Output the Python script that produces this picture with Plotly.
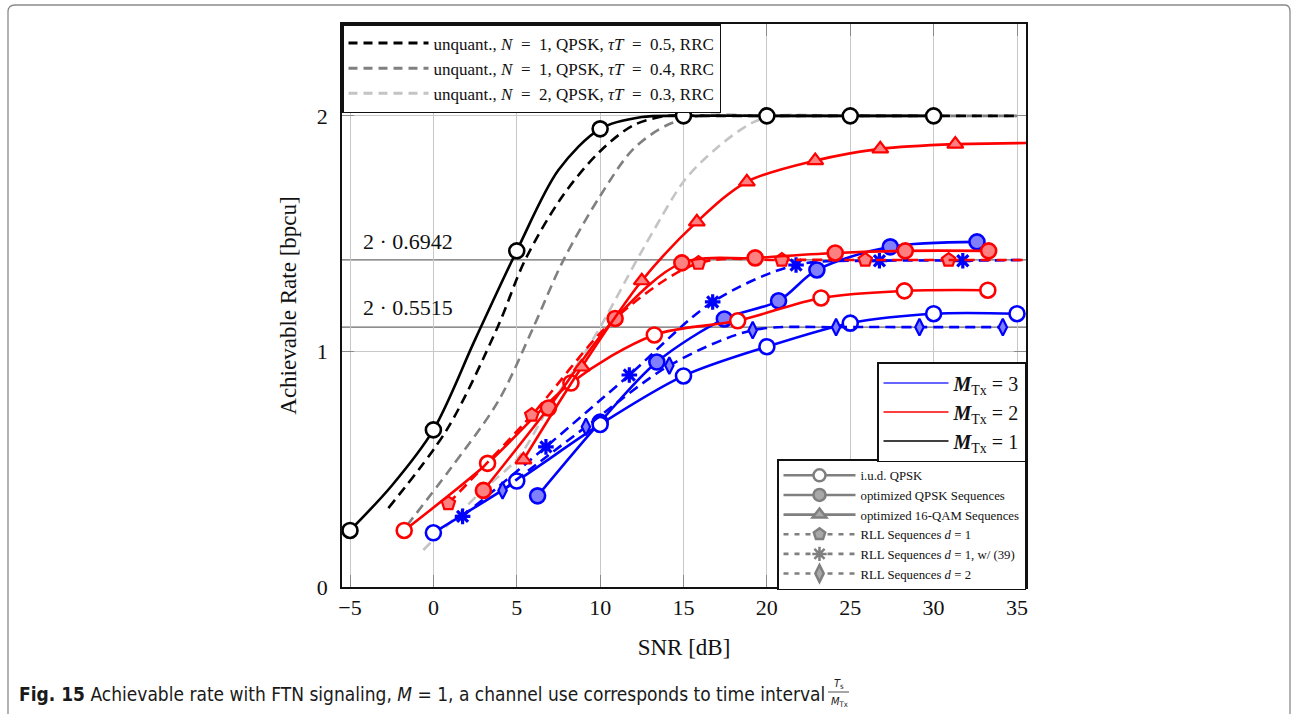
import plotly.graph_objects as go

# ---------------- data ----------------
# unquantized reference curves (dashed, no markers)
snr_uq_a = [-2.7, 0.8, 3.85, 5.5, 7.75, 10.0, 12.0, 14.0, 16.0, 20, 25, 30, 35]
rate_uq_a = [0.335, 0.667, 1.103, 1.388, 1.66, 1.85, 1.96, 2.0, 2.0, 2.0, 2.0, 2.0, 2.0]
snr_uq_b = [-1.6, 1.0, 3.9, 6.0, 7.8, 10.0, 12.0, 14.0, 16.0, 20, 25, 30, 35]
rate_uq_b = [0.26, 0.5, 0.79, 1.103, 1.388, 1.66, 1.86, 1.96, 2.0, 2.0, 2.0, 2.0, 2.0]
snr_uq_c = [-0.6, 0.4, 2.8, 5.1, 6.9, 8.5, 10.0, 12.2, 13.1, 15.1, 17.1, 19.1, 20.5, 25, 30, 35]
rate_uq_c = [0.157, 0.23, 0.40, 0.55, 0.76, 0.93, 1.103, 1.388, 1.50, 1.73, 1.87, 1.97, 2.0, 2.0, 2.0, 2.0]

# M_Tx = 1, i.u.d. QPSK
snr_m1_iud = [-5, 0, 5, 10, 15, 20, 25, 30]
rate_m1_iud = [0.24, 0.667, 1.427, 1.945, 2.0, 2.0, 2.0, 2.0]
snr_m1_iud_line = [-5, -2.5, 0, 2.5, 5, 7.5, 10, 12.5, 15, 20, 25, 30]
rate_m1_iud_line = [0.24, 0.43, 0.667, 1.05, 1.427, 1.77, 1.945, 1.995, 2.0, 2.0, 2.0, 2.0]

# M_Tx = 2
snr_m2_iud = [-1.75, 3.25, 8.25, 13.25, 18.25, 23.25, 28.25, 33.25]
rate_m2_iud = [0.24, 0.525, 0.866, 1.07, 1.13, 1.227, 1.257, 1.26]
snr_m2_opt = [3.0, 6.9, 10.9, 14.9, 19.3, 24.1, 28.3, 33.3]
rate_m2_opt = [0.41, 0.76, 1.14, 1.376, 1.397, 1.418, 1.427, 1.427]
snr_m2_qam = [5.4, 8.9, 12.5, 15.8, 18.8, 22.9, 26.8, 31.3]
rate_m2_qam = [0.54, 0.934, 1.30, 1.55, 1.72, 1.81, 1.86, 1.88]
snr_m2_qam_tail = [31.3, 35.6]
rate_m2_qam_tail = [1.88, 1.885]
snr_m2_rll1 = [0.9, 5.9, 10.9, 15.9, 20.9, 25.9, 30.9]
rate_m2_rll1 = [0.355, 0.73, 1.14, 1.375, 1.388, 1.388, 1.388]

# M_Tx = 3
snr_m3_iud = [0, 5, 10, 15, 20, 25, 30, 35]
rate_m3_iud = [0.23, 0.45, 0.69, 0.896, 1.02, 1.12, 1.16, 1.16]
snr_m3_opt = [6.25, 10, 13.4, 17.45, 20.7, 23.0, 27.4, 32.6]
rate_m3_opt = [0.387, 0.70, 0.955, 1.138, 1.215, 1.346, 1.444, 1.465]
snr_m3_rll1w = [1.75, 6.75, 11.75, 16.75, 21.75, 26.75, 31.75]
rate_m3_rll1w = [0.30, 0.595, 0.90, 1.21, 1.367, 1.385, 1.385]
snr_m3_rll2 = [4.15, 9.15, 14.15, 19.15, 24.15, 29.15, 34.15]
rate_m3_rll2 = [0.41, 0.68, 0.94, 1.09, 1.103, 1.103, 1.103]

# reference levels
ref_levels = [2 * 0.6942, 2 * 0.5515]
ref_labels = ["2 · 0.6942", "2 · 0.5515"]

x_ticks = [-5, 0, 5, 10, 15, 20, 25, 30, 35]
y_ticks = [0, 1, 2]

EQ = "\u2002=\u2002"
legend1_labels = [
    f"unquant., <i>N</i>{EQ}1, QPSK, <i>τT</i>{EQ}0.5, RRC",
    f"unquant., <i>N</i>{EQ}1, QPSK, <i>τT</i>{EQ}0.4, RRC",
    f"unquant., <i>N</i>{EQ}2, QPSK, <i>τT</i>{EQ}0.3, RRC",
]
legend2_labels = [
    "i.u.d. QPSK",
    "optimized QPSK Sequences",
    "optimized 16-QAM Sequences",
    "RLL Sequences <i>d</i> = 1",
    "RLL Sequences <i>d</i> = 1, w/ (39)",
    "RLL Sequences <i>d</i> = 2",
]
legend3_labels = [
    "<b><i>M</i></b><sub>Tx</sub> = 3",
    "<b><i>M</i></b><sub>Tx</sub> = 2",
    "<b><i>M</i></b><sub>Tx</sub> = 1",
]

# ---------------- styling ----------------
SERIF = "Liberation Serif, Times New Roman, serif"
RED, BLUE, BLACK = "#ff0000", "#0000ff", "#000000"
RED_F, BLUE_F = "#ff8080", "#8080ff"
DASH = "10px,6px"
LW = 2.6

W, H = 1292, 714
L, R, T, B = 342, 266, 24, 127
PW, PH = W - L - R, H - T - B


def px(xp):
    return (xp - L) / PW


def py(yp):
    return (H - B - yp) / PH


fig = go.Figure()


def add(x, y, color, dash="solid", symbol=None, fill="white", size=15,
        mlw=2.6, shape="spline", mode=None):
    if mode is None:
        mode = "lines+markers" if symbol else "lines"
    marker = None
    if symbol:
        marker = dict(symbol=symbol, size=size, color=fill,
                      line=dict(color=color, width=mlw))
    fig.add_trace(go.Scatter(
        x=x, y=y, mode=mode, showlegend=False, hoverinfo="skip",
        line=dict(color=color, width=LW, dash=dash, shape=shape, smoothing=0.9),
        marker=marker, cliponaxis=True))


# unquantized curves
add(snr_uq_c, rate_uq_c, "#c4c4c4", dash=DASH)
add(snr_uq_b, rate_uq_b, "#808080", dash=DASH)
add(snr_uq_a, rate_uq_a, BLACK, dash=DASH)

# M_Tx = 1
add(snr_m1_iud_line, rate_m1_iud_line, BLACK)
add(snr_m1_iud, rate_m1_iud, BLACK, symbol="circle", mode="markers")

# M_Tx = 3
add(snr_m3_opt, rate_m3_opt, BLUE, symbol="circle", fill=BLUE_F)
add(snr_m3_iud, rate_m3_iud, BLUE, symbol="circle", fill="white")
add(snr_m3_rll1w, rate_m3_rll1w, BLUE, dash=DASH, symbol="asterisk", size=13, mlw=3.2)
fig.add_trace(go.Scatter(x=[snr_m3_rll1w[-1], 35.6], y=[rate_m3_rll1w[-1], ref_levels[0]],
                         mode="lines", showlegend=False, hoverinfo="skip",
                         line=dict(color=BLUE, width=LW, dash=DASH)))
add(snr_m3_rll2, rate_m3_rll2, BLUE, dash=DASH, symbol="diamond-tall", fill=BLUE_F, size=12, mlw=2.2)

# M_Tx = 2
add(snr_m2_iud, rate_m2_iud, RED, symbol="circle", fill="white")
add(snr_m2_rll1, rate_m2_rll1, RED, dash=DASH, symbol="pentagon", fill=RED_F, size=14, mlw=2.2)
fig.add_trace(go.Scatter(x=[snr_m2_rll1[-1], 35.6], y=[rate_m2_rll1[-1], ref_levels[0]],
                         mode="lines", showlegend=False, hoverinfo="skip",
                         line=dict(color=RED, width=LW, dash=DASH)))
add(snr_m2_opt, rate_m2_opt, RED, symbol="circle", fill=RED_F)
add(snr_m2_qam_tail, rate_m2_qam_tail, RED)
add(snr_m2_qam, rate_m2_qam, RED, symbol="triangle-up", fill=RED_F, size=14, mlw=2.2)

# ---------------- legends (dummy entries) ----------------
for lab, col in zip(legend1_labels, ["#000000", "#808080", "#c4c4c4"]):
    fig.add_trace(go.Scatter(x=[None], y=[None], mode="lines", name=lab, legend="legend",
                             line=dict(color=col, width=3, dash="9px,6px")))

G, GF = "#7f7f7f", "#a8a8a8"
leg2_styles = [
    ("solid", "circle", "white"),
    ("solid", "circle", GF),
    ("solid", "triangle-up", GF),
    ("5px,6px", "pentagon", GF),
    ("5px,6px", "asterisk", GF),
    ("5px,6px", "diamond-tall", GF),
]
for lab, (d, sym, f) in zip(legend2_labels, leg2_styles):
    fig.add_trace(go.Scatter(x=[None], y=[None], mode="lines+markers", name=lab, legend="legend2",
                             line=dict(color=G, width=2.6, dash=d),
                             marker=dict(symbol=sym, size=12, color=f, line=dict(color=G, width=2.5))))

for lab, col in zip(legend3_labels, ["#3333ff", "#ff0000", "#000000"]):
    fig.add_trace(go.Scatter(x=[None], y=[None], mode="lines", name=lab, legend="legend3",
                             line=dict(color=col, width=1.5)))

# ---------------- shapes & annotations ----------------
shapes = []
for lvl in ref_levels:
    shapes.append(dict(type="line", xref="paper", yref="y", x0=0, x1=1, y0=lvl, y1=lvl,
                       line=dict(color="#6a6a6a", width=1.3), layer="below"))
# outer page frame
shapes.append(dict(type="path", xref="paper", yref="paper",
                   path=f"M {px(8)},{py(720)} L {px(8)},{py(12)} Q {px(8)},{py(5)} {px(15)},{py(5)} "
                        f"L {px(1285)},{py(5)} Q {px(1290)},{py(5)} {px(1290)},{py(12)} L {px(1290)},{py(720)}",
                   line=dict(color="#8a8a8a", width=1.3)))
# fraction bar in caption
shapes.append(dict(type="line", xref="paper", yref="paper", x0=px(828), x1=px(849),
                   y0=py(692), y1=py(692), line=dict(color="#222", width=0.8)))

annotations = []
for lvl, lab, dy in zip(ref_levels, ref_labels, [0.077, 0.082]):
    annotations.append(dict(text=lab, xref="paper", yref="y", x=px(361), y=lvl + dy,
                            xanchor="left", yanchor="middle", showarrow=False,
                            font=dict(family=SERIF, size=22, color="#111")))

CAP = "Liberation Sans Narrow, DejaVu Sans Condensed, Arial Narrow, sans-serif"
annotations.append(dict(
    text="<b>Fig. 15</b> Achievable rate with FTN signaling, <i>M</i> = 1, a channel use corresponds to time interval",
    xref="paper", yref="paper", x=px(17), y=py(694), xanchor="left", yanchor="middle",
    showarrow=False, font=dict(family=CAP, size=19, color="#1a1a1a")))
annotations.append(dict(text="<i>T</i><sub>s</sub>", xref="paper", yref="paper", x=px(839), y=py(684),
                        xanchor="center", yanchor="middle", showarrow=False,
                        font=dict(family=CAP, size=11, color="#1a1a1a")))
annotations.append(dict(text="<i>M</i><sub>Tx</sub>", xref="paper", yref="paper", x=px(839), y=py(702),
                        xanchor="center", yanchor="middle", showarrow=False,
                        font=dict(family=CAP, size=11, color="#1a1a1a")))

fig.update_layout(
    width=W, height=H,
    margin=dict(l=L, r=R, t=T, b=B, pad=0),
    paper_bgcolor="white", plot_bgcolor="white",
    font=dict(family=SERIF, color="#111"),
    shapes=shapes, annotations=annotations,
    xaxis=dict(range=[-5.48, 35.54], tickvals=x_ticks,
               ticktext=[("−5" if v < 0 else str(v)) for v in x_ticks],
               showgrid=True, gridcolor="#c8c8c8", gridwidth=1,
               ticks="inside", ticklen=12, tickcolor="#8a8a8a", tickwidth=1.2,
               showline=True, linecolor="#111", linewidth=1.5, mirror="ticks",
               zeroline=False, tickfont=dict(family=SERIF, size=22),
               title=dict(text="SNR [dB]", font=dict(family=SERIF, size=23), standoff=20)),
    yaxis=dict(range=[0, 2.39], tickvals=y_ticks,
               showgrid=True, gridcolor="#c8c8c8", gridwidth=1,
               ticks="inside", ticklen=12, tickcolor="#8a8a8a", tickwidth=1.2,
               showline=True, linecolor="#111", linewidth=1.5, mirror="ticks",
               zeroline=False, tickfont=dict(family=SERIF, size=22), ticklabelstandoff=8,
               title=dict(text="Achievable Rate [bpcu]", font=dict(family=SERIF, size=23), standoff=14)),
    legend=dict(x=0, y=1, xanchor="left", yanchor="top", bgcolor="white",
                bordercolor="#111", borderwidth=1.5, font=dict(family=SERIF, size=17),
                itemwidth=80, tracegroupgap=0),
    legend2=dict(x=1, y=py(459), xanchor="right", yanchor="top", bgcolor="white",
                 bordercolor="#111", borderwidth=1.5, font=dict(family=SERIF, size=12.8),
                 itemwidth=72, tracegroupgap=0),
    legend3=dict(x=1, y=py(362), xanchor="right", yanchor="top", bgcolor="white",
                 bordercolor="#111", borderwidth=1.5, font=dict(family=SERIF, size=20),
                 itemwidth=65, tracegroupgap=0),
)

fig.write_html("out.html")
